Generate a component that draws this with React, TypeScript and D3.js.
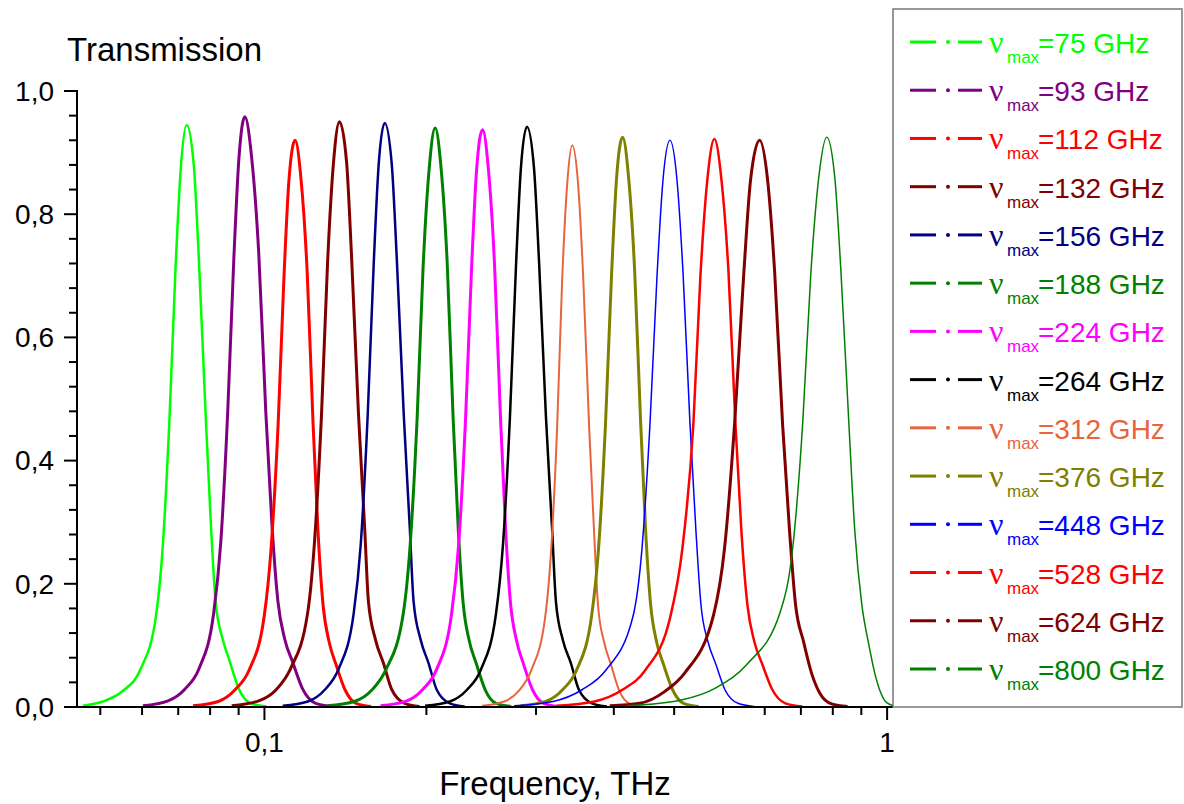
import React from "react";
import * as d3 from "d3";

// ---------- DATA (frequency in GHz, transmission) ----------
const labelsGHz = [75, 93, 112, 132, 156, 188, 224, 264, 312, 376, 448, 528, 624, 800];

const s75: [number, number][] = [[51.1,.002],[55.0,.009],[59.2,.026],[63.3,.062],[66.9,.145],[68.6,.255],[70.4,.470],[72.0,.715],[73.4,.875],[75,.945],[77.0,.880],[78.4,.735],[80.5,.470],[82.0,.300],[83.5,.170],[85.7,.110],[87.9,.075],[90.9,.030],[95.0,.006],[100.8,.001]];
const s93: [number, number][] = [[63.8,.002],[70.0,.010],[74.5,.029],[78.5,.062],[82.9,.153],[85.1,.268],[87.3,.479],[89.3,.728],[91.0,.891],[93,.958],[95.4,.891],[97.9,.738],[100.5,.479],[102.8,.297],[105.1,.172],[107.8,.110],[111.1,.072],[115.2,.029],[120.9,.006],[128.7,.001]];
const s112: [number, number][] = [[76.8,.002],[84.3,.009],[89.7,.028],[94.5,.060],[99.9,.147],[102.5,.258],[105.2,.460],[107.5,.699],[109.5,.856],[112,.920],[114.5,.856],[117.1,.708],[119.7,.460],[121.9,.285],[124.2,.166],[127.0,.106],[130.3,.069],[134.7,.028],[140.3,.006],[148.3,.001]];
const s132: [number, number][] = [[88.6,.002],[97.9,.010],[104.6,.029],[110.1,.062],[117.3,.152],[120.3,.266],[123.5,.475],[126.3,.722],[129.1,.884],[132,.950],[135.5,.884],[138.0,.732],[141.6,.475],[144.8,.295],[146.9,.171],[150.8,.109],[155.3,.071],[160.0,.029],[167.9,.006],[177.4,.001]];
const s156: [number, number][] = [[107.0,.002],[117.4,.009],[125.0,.028],[131.6,.062],[139.1,.152],[142.8,.265],[146.5,.474],[149.8,.720],[152.6,.882],[156,.948],[160.1,.882],[163.1,.730],[167.4,.474],[171.1,.294],[173.6,.171],[178.2,.109],[183.5,.071],[189.1,.028],[198.4,.006],[209.7,.001]];
const s188: [number, number][] = [[126.1,.002],[139.4,.009],[148.9,.028],[156.8,.061],[167.0,.150],[171.4,.263],[175.9,.470],[179.8,.714],[183.9,.874],[188,.940],[192.2,.874],[196.5,.724],[200.9,.470],[204.7,.291],[208.5,.169],[213.2,.108],[218.8,.071],[226.2,.028],[235.5,.006],[249.0,.001]];
const s224: [number, number][] = [[153.6,.002],[168.5,.009],[179.4,.028],[189.0,.061],[199.7,.150],[205.0,.262],[210.4,.469],[215.1,.712],[219.1,.871],[224,.937],[229.0,.871],[234.1,.721],[239.4,.469],[243.9,.290],[248.4,.169],[254.0,.108],[260.6,.070],[269.5,.028],[280.6,.006],[296.7,.001]];
const s264: [number, number][] = [[181.1,.002],[198.6,.009],[211.5,.028],[222.7,.061],[235.4,.151],[241.6,.264],[247.9,.471],[253.5,.716],[258.2,.876],[264,.942],[270.9,.876],[276.0,.725],[283.2,.471],[289.6,.292],[293.9,.170],[301.6,.108],[310.6,.071],[319.9,.028],[335.7,.006],[354.8,.001]];
const s312: [number, number][] = [[223.7,.002],[242.7,.009],[256.5,.027],[268.1,.059],[282.4,.146],[288.7,.255],[295.2,.456],[300.7,.693],[306.3,.848],[312,.912],[319.0,.848],[324.9,.702],[332.2,.456],[338.4,.283],[343.4,.164],[351.2,.105],[360.4,.068],[371.2,.027],[386.6,.005],[405.6,.001]];
const s376: [number, number][] = [[257.9,.002],[282.9,.009],[301.2,.028],[317.2,.060],[335.3,.148],[344.1,.259],[353.1,.463],[361.0,.703],[367.8,.860],[376,.925],[384.4,.860],[393.0,.712],[401.9,.463],[409.4,.287],[417.0,.167],[426.3,.106],[437.5,.069],[452.3,.028],[471.1,.006],[498.0,.001]];
const s448: [number, number][] = [[251.7,.002],[290.8,.009],[323.6,.028],[353.6,.060],[390.7,.147],[404.0,.258],[416.1,.460],[427.0,.699],[436.6,.856],[448,.920],[459.7,.856],[470.0,.708],[482.4,.460],[493.2,.285],[502.4,.166],[515.6,.106],[531.0,.069],[549.0,.028],[576.0,.006],[611.1,.001]];
const s528: [number, number][] = [[294.5,.002],[338.9,.009],[375.8,.028],[409.1,.060],[448.7,.147],[469.1,.258],[488.6,.461],[501.4,.700],[514.5,.857],[528,.922],[541.8,.857],[556.0,.710],[570.6,.461],[583.4,.286],[596.5,.166],[612.1,.106],[630.5,.069],[654.2,.028],[686.5,.006],[731.0,.001]];
const s624: [number, number][] = [[358.5,.002],[400.5,.006],[439.2,.025],[472.9,.055],[526.5,.150],[548.2,.258],[568.9,.460],[588.2,.699],[603.6,.856],[624,.920],[642.7,.856],[659.6,.708],[679.3,.460],[697.2,.285],[712.8,.166],[734.2,.106],[756.2,.055],[778.9,.023],[814.3,.005],[863.9,.001]];
const s800: [number, number][] = [[382.0,.002],[464.7,.011],[532.7,.032],[595.2,.069],[675.0,.157],[705.5,.259],[732.1,.463],[754.1,.703],[776.7,.860],[800,.925],[824.0,.860],[842.5,.712],[867.8,.463],[887.2,.287],[910.5,.167],[934.3,.102],[955.3,.055],[976.7,.023],[998.6,.007],[1036.2,.001]];

const seriesData = [s75, s93, s112, s132, s156, s188, s224, s264, s312, s376, s448, s528, s624, s800];

const yMajorTicks = [0, 0.2, 0.4, 0.6, 0.8, 1.0];
const yMinorTicks = [0.04, 0.08, 0.12, 0.16, 0.24, 0.28, 0.32, 0.36, 0.44, 0.48, 0.52, 0.56, 0.64, 0.68, 0.72, 0.76, 0.84, 0.88, 0.92, 0.96];
const xMajorTicks = [0.1, 1];
const xMajorLabels = ["0,1", "1"];
const xMinorTicks = [0.0545, 0.0636, 0.0727, 0.0818, 0.0909, 0.182, 0.273, 0.364, 0.455, 0.545, 0.636, 0.727, 0.818, 0.909];

// ---------- STYLES ----------
const colors = ["#00FF00", "#800080", "#FF0000", "#800000", "#000080", "#008000", "#FF00FF", "#000000", "#E8643C", "#808000", "#0000FF", "#FF0000", "#800000", "#008000"];
const widths = [2.5, 3, 3, 3, 2.5, 3, 3, 2.5, 2, 3, 1.5, 2.5, 3, 1.5];

const W = 1184, H = 804;
const plotL = 77, plotR = 893, plotT = 91, plotB = 707;
const FONT = "'Liberation Sans', Arial, sans-serif";

export default function App() {
  const x = d3.scaleLog().domain([0.05, 1.022]).range([plotL, plotR]);
  const y = d3.scaleLinear().domain([0, 1]).range([plotB, plotT]);
  const line = d3.line<[number, number]>()
    .x((d) => x(d[0] / 1000))
    .y((d) => y(d[1]))
    .curve(d3.curveMonotoneX);

  const legX = 910;
  const legBase0 = 53;
  const legStep = 48.23;

  return (
    <svg width={W} height={H} style={{ position: "absolute", left: 0, top: 0, background: "#fff" }} fontFamily={FONT}>
      <rect x={0} y={0} width={W} height={H} fill="#fff" />
      <defs>
        <clipPath id="plotClip">
          <rect x={plotL} y={0} width={plotR - plotL} height={plotB} />
        </clipPath>
      </defs>

      {/* curves */}
      <g clipPath="url(#plotClip)">
        {seriesData.map((s, i) => (
          <path key={i} d={line(s) || ""} fill="none" stroke={colors[i]} strokeWidth={widths[i]} strokeLinejoin="round" />
        ))}
      </g>

      {/* Y axis */}
      <line x1={plotL} x2={plotL} y1={plotT - 1} y2={plotB + 1} stroke="#000" strokeWidth={2} />
      {yMajorTicks.map((t) => (
        <g key={"ym" + t}>
          <line x1={plotL - 13} x2={plotL} y1={y(t)} y2={y(t)} stroke="#000" strokeWidth={2} />
          <text x={54} y={y(t)} dy="0.35em" textAnchor="end" fontSize={28} fill="#000">
            {t.toFixed(1).replace(".", ",")}
          </text>
        </g>
      ))}
      {yMinorTicks.map((t) => (
        <line key={"yn" + t} x1={plotL - 8} x2={plotL} y1={y(t)} y2={y(t)} stroke="#000" strokeWidth={2} />
      ))}
      <text x={67} y={61} fontSize={33} fill="#000">Transmission</text>

      {/* X axis */}
      <line x1={plotL - 1} x2={plotR} y1={plotB} y2={plotB} stroke="#000" strokeWidth={2} />
      {xMajorTicks.map((t, i) => (
        <g key={"xm" + t}>
          <line x1={x(t)} x2={x(t)} y1={plotB} y2={plotB + 13} stroke="#000" strokeWidth={2} />
          <text x={x(t)} y={752} textAnchor="middle" fontSize={28} fill="#000">{xMajorLabels[i]}</text>
        </g>
      ))}
      {xMinorTicks.map((t) => (
        <line key={"xn" + t} x1={x(t)} x2={x(t)} y1={plotB} y2={plotB + 8} stroke="#000" strokeWidth={2} />
      ))}
      <text x={555} y={795} textAnchor="middle" fontSize={33} fill="#000">Frequency, THz</text>

      {/* Legend */}
      <rect x={893} y={9} width={289} height={698} fill="#fff" stroke="#777" strokeWidth={1.5} />
      {labelsGHz.map((v, i) => {
        const base = legBase0 + i * legStep;
        const ly = base - 11;
        return (
          <g key={"leg" + v}>
            <line x1={legX} x2={legX + 26} y1={ly} y2={ly} stroke={colors[i]} strokeWidth={3} />
            <circle cx={legX + 38} cy={ly} r={2} fill={colors[i]} />
            <line x1={legX + 48} x2={legX + 72} y1={ly} y2={ly} stroke={colors[i]} strokeWidth={3} />
            <text x={989} y={base} fontSize={32} fontFamily="'Liberation Serif', 'Times New Roman', serif" fill={colors[i]}>ν</text>
            <text x={1007} y={base + 10} fontSize={17} fill={colors[i]}>max</text>
            <text x={1038} y={base} fontSize={28} fill={colors[i]}>{`=${v} GHz`}</text>
          </g>
        );
      })}
    </svg>
  );
}
